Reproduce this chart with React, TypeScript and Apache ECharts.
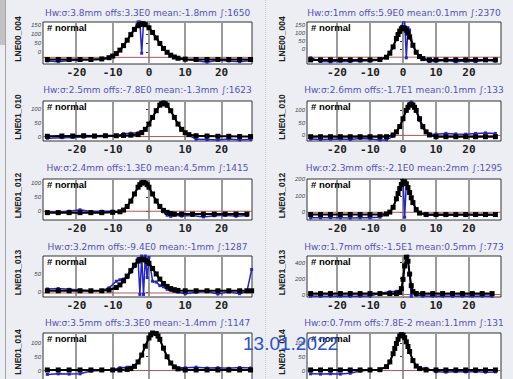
import React, { useEffect, useRef } from "react";
import * as echarts from "echarts";

// ---------- data ----------
const PANEL_NAMES = ["LNE00_004", "LNE00_004", "LNE01_010", "LNE01_010", "LNE01_012", "LNE01_012", "LNE01_013", "LNE01_013", "LNE01_014", "LNE01_014"];
const TITLES = [
  "Hw:σ:3.8mm offs:3.3E0 mean:-1.8mm ∫:1650",
  "Hw:σ:1mm offs:5.9E0 mean:0.1mm ∫:2370",
  "Hw:σ:2.5mm offs:-7.8E0 mean:-1.3mm ∫:1623",
  "Hw:σ:2.6mm offs:-1.7E1 mean:0.1mm ∫:133",
  "Hw:σ:2.4mm offs:1.3E0 mean:4.5mm ∫:1415",
  "Hw:σ:2.3mm offs:-2.1E0 mean:2mm ∫:1295",
  "Hw:σ:3.2mm offs:-9.4E0 mean:-1mm ∫:1287",
  "Hw:σ:1.7mm offs:-1.5E1 mean:0.5mm ∫:773",
  "Hw:σ:3.5mm offs:3.3E0 mean:-1.4mm ∫:1147",
  "Hw:σ:0.7mm offs:7.8E-2 mean:1.1mm ∫:131",
];
const LEGEND_TEXT = "# normal";
const DATE_TEXT = "13.01.2022";
const X_TICKS = [-20, -10, 0, 10, 20];
const Y_TICKS = [
  [0, 50, 100, 150], [0, 50, 100, 150],
  [0, 50, 100], [0, 50, 100],
  [0, 50, 100], [0, 100, 200],
  [0, 50], [0, 200, 400],
  [0, 50, 100], [0, 50, 100],
];
const Y_RANGES = [
  [-65, 168], [-94, 171],
  [-16, 128], [-22, 136],
  [-31, 114], [-47, 202],
  [-13, 99], [-31, 483],
  [-38, 136], [-38, 136],
];
const BASELINES = [-28, -51, 0, 0, 0, 0, -2, 0, 0, 0];

const X1L = [-28,-25,-22,-19,-16,-13,-11,-10,-9,-8,-7,-6,-5,-4,-3,-2.5,-2,-1.5,-1,0,1,2,3,4,5,6,7,8,10,13,16,19,22,25,28];
const FIT1L = [-40,-40,-40,-40,-40,-37,-30,-21,-7,12,37,67,98,127,147,154,157,157,153,136,110,80,49,21,0,-16,-26,-33,-38,-40,-40,-40,-40,-40,-40];
const RAW1L = [-48,-52,-45,-44,-42,-40,-32,-22,-8,10,36,68,100,130,168,168,-5,165,155,138,110,80,50,22,0,-18,-28,-36,-42,-45,-55,-44,-48,-52,-46];

const X1R = [-28,-25,-22,-19,-16,-13,-10,-7,-5,-4,-3,-2,-1.5,-1,-0.5,0,0.5,1,1.5,2,3,4,5,6,8,10,13,16,19,22,25,28];
const FIT1R = [-68,-68,-68,-68,-68,-68,-68,-66,-51,-26,14,66,92,113,128,135,132,120,101,76,24,-20,-47,-60,-68,-68,-68,-68,-68,-68,-68,-68];
const RAW1R = [-55,-78,-80,-76,-78,-75,-74,-70,-48,-20,18,70,95,110,130,175,175,-55,135,120,30,-18,-50,-62,-78,-76,-72,-80,-75,-78,-72,-76];

const X2L = [-28,-24,-21,-18,-15,-12,-9,-7,-5,-3,-2,-1,0,1,2,3,3.5,4,4.5,5,6,7,8,9,10,11,13,16,19,22,25,28];
const FIT2L = [1,2,2,3,2,3,3,4,5,7,14,26,45,69,93,113,118,120,118,113,93,69,45,26,14,7,3,2,1,1,0,0];
const RAW2L = [-6,-4,-3,-2,-1,0,2,10,12,14,18,24,44,70,95,112,120,125,116,110,92,70,44,24,12,5,-10,-11,-12,-9,-12,-10];

const X2R = [-28,-25,-22,-19,-16,-13,-10,-7,-5,-3,-2,-1,0,1,1.5,2,2.5,3,3.5,4,5,6,7,8,10,13,16,19,22,25,28];
const FIT2R = [-5,-5,-5,-5,-5,-5,-5,-5,-5,2,14,35,66,99,111,120,123,120,111,99,66,35,14,2,-5,-5,-5,-5,-5,-5,-5];
const RAW2R = [-14,-16,-15,-14,-16,-12,-14,-18,-17,-4,12,34,66,100,115,126,132,118,110,96,60,30,14,6,5,8,6,5,8,10,8];

const X3L = [-28,-25,-22,-19,-16,-13,-10,-8,-7,-6,-5,-4,-3,-2.5,-2,-1.5,-1,-0.5,0,1,2,3,4,5,6,7,9,12,15,18,21,24,27];
const FIT3L = [-5,-5,-5,-5,-5,-5,-4,-2,4,17,36,61,85,94,100,102,100,94,85,61,36,17,3,-4,-8,-10,-10,-10,-10,-10,-10,-10,-10];
const RAW3L = [-2,-3,0,5,-1,0,0,-1,5,18,34,60,86,96,104,104,102,96,86,60,34,14,-2,-14,-18,-14,-17,-15,-20,-16,-14,-18,-15];

const X3R = [-28,-25,-22,-19,-16,-13,-10,-7,-5,-4,-3,-2,-1.5,-1,-0.5,0,0.5,1,1.5,2,2.5,3,4,5,7,10,13,16,19,22,25,28];
const FIT3R = [-14,-14,-14,-14,-14,-14,-14,-14,-10,1,30,82,114,144,169,184,185,173,150,120,88,59,16,-5,-14,-14,-14,-14,-14,-14,-14,-14];
const RAW3R = [-34,-34,-33,-34,-35,-33,-34,-30,-12,2,28,80,116,146,172,205,-30,175,150,118,86,60,18,-8,-18,-16,-20,-17,-15,-18,-16,-18];

const X4L = [-28,-25,-22,-19,-16,-13,-11,-9,-8,-7,-6,-5,-4,-3,-2.5,-2,-1.5,-1,-0.5,0,1,2,3,4,5,6,7,8,10,13,16,19,22,25,27,28.3];
const FIT4L = [4,4,4,4,4,4,6,13,20,31,44,59,74,85,88,90,90,88,84,79,65,50,36,24,16,10,7,5,4,4,4,4,4,4,4,4];
const RAW4L = [9,10,8,6,4,5,12,30,34,36,40,55,70,92,-6,99,-6,99,40,95,30,28,18,15,8,5,2,0,-4,0,2,-5,1,-4,2,62];

const X4R = [-28,-25,-22,-19,-16,-13,-10,-7,-4,-2,-1,-0.5,0,0.5,1,1.5,2,2.5,3,4,6,9,12,15,18,21,24,27];
const FIT4R = [12,12,12,12,12,12,12,12,12,12,27,74,191,359,468,418,256,111,39,13,12,12,12,12,12,12,12,12];
const RAW4R = [-20,-22,-21,-20,-22,-21,-20,15,35,40,40,60,180,350,470,480,250,-20,35,-10,-20,-21,-20,-22,-20,-21,-20,-22];

const X5L = [-28,-25,-22,-19,-16,-13,-10,-8,-6,-5,-4,-3,-2,-1,0,0.5,1,1.5,2,2.5,3,4,5,6,7,8,10,13,16,19,22,25,28];
const FIT5L = [2,2,2,2,2,2,2,2,4,7,15,31,56,88,118,129,136,138,134,125,113,81,50,27,13,6,2,2,2,2,2,2,2];
const RAW5L = [-14,-12,-13,-12,-2,0,3,10,12,12,16,30,56,90,120,130,138,140,136,126,112,80,48,26,14,10,10,12,9,10,8,11,9];

const X5R = [-28,-25,-22,-19,-16,-13,-10,-7,-5,-4,-3,-2.5,-2,-1.5,-1,-0.5,0,0.5,1,1.5,2,3,4,5,7,10,13,16,19,22,25,28];
const FIT5R = [2,2,2,2,2,2,2,3,14,31,61,80,98,113,125,130,128,119,104,87,69,36,16,7,2,2,2,2,2,2,2,2];
const RAW5R = [-12,-13,-12,-13,-10,-2,2,3,14,30,60,80,100,114,126,132,130,120,104,86,68,38,18,10,8,-4,-6,-4,-5,-4,-6,-5];

const XS = [X1L, X1R, X2L, X2R, X3L, X3R, X4L, X4R, X5L, X5R];
const FITS = [FIT1L, FIT1R, FIT2L, FIT2R, FIT3L, FIT3R, FIT4L, FIT4R, FIT5L, FIT5R];
const RAWS = [RAW1L, RAW1R, RAW2L, RAW2R, RAW3L, RAW3R, RAW4L, RAW4R, RAW5L, RAW5R];

// ---------- layout ----------
const W = 513;
const H = 379;
const COLS = [
  { left: 43, width: 209, xMin: -29.2, xMax: 28.4, nameX: 18 },
  { left: 307, width: 194, xMin: -29.1, xMax: 29.7, nameX: 282 },
];
const ROWS = [
  { top: 22, height: 42, titleY: 12.5 },
  { top: 101, height: 40, titleY: 90 },
  { top: 179, height: 41, titleY: 167.5 },
  { top: 256, height: 41, titleY: 247 },
  { top: 333, height: 48, titleY: 322.5 },
];

export default function App() {
  const ref = useRef<HTMLDivElement>(null);
  useEffect(() => {
    document.body.style.margin = "0";
    if (!ref.current) return;
    const chart = echarts.init(ref.current, null, { renderer: "svg" });
    const grids: any[] = [];
    const xAxes: any[] = [];
    const yAxes: any[] = [];
    const series: any[] = [];
    const graphics: any[] = [
      { type: "rect", shape: { x: 0, y: 0, width: 6, height: 45 }, style: { fill: "#c2c2c2" } },
      { type: "line", shape: { x1: 5.5, y1: 0, x2: 5.5, y2: H }, style: { stroke: "#a4a4a4", lineWidth: 1 } },
      { type: "line", shape: { x1: 265.5, y1: 0, x2: 265.5, y2: H }, style: { stroke: "#c9cfda", lineWidth: 1, lineDash: [1, 1] } },
    ];
    for (let i = 0; i < 10; i++) {
      const c = COLS[i % 2];
      const r = ROWS[Math.floor(i / 2)];
      const [yMin, yMax] = Y_RANGES[i];
      grids.push({
        left: c.left, top: r.top, width: c.width, height: r.height,
        outerBoundsMode: "none", containLabel: false,
        show: true, backgroundColor: "#ffffff", borderColor: "#333", borderWidth: 1,
      });
      xAxes.push({
        gridIndex: i, type: "value", min: c.xMin, max: c.xMax,
        axisLine: { show: false },
        axisTick: { show: true, length: 3, customValues: X_TICKS, lineStyle: { color: "#333" } },
        axisLabel: {
          customValues: X_TICKS, margin: 3, fontFamily: "DejaVu Sans Mono", fontWeight: "bold",
          fontSize: 11, color: "#222",
        },
        splitLine: { show: false },
      });
      yAxes.push({
        gridIndex: i, type: "value", min: yMin, max: yMax,
        axisLine: { show: false },
        axisTick: { show: true, length: 3, customValues: Y_TICKS[i], lineStyle: { color: "#333" } },
        axisLabel: {
          customValues: Y_TICKS[i], margin: 2, fontFamily: "Liberation Sans", fontStyle: "italic",
          fontSize: 6, color: "#444",
        },
        splitLine: { show: false },
      });
      // vertical grid lines at the x tick values, as thin filled rects placed through the axes
      series.push({
        type: "custom", xAxisIndex: i, yAxisIndex: i, z: 1, silent: true,
        data: X_TICKS.map((v) => [v, yMin]),
        encode: { x: 0, y: 1 },
        renderItem: (params: any, api: any) => {
          const v = api.value(0);
          const top = api.coord([v, yMax]);
          const bottom = api.coord([v, yMin]);
          return {
            type: "rect",
            shape: { x: Math.round(top[0]) - 1, y: top[1], width: 2, height: bottom[1] - top[1] },
            style: { fill: "#9a9a9a" },
          };
        },
      });
      // baseline
      series.push({
        type: "line", xAxisIndex: i, yAxisIndex: i, z: 1, silent: true,
        data: [[c.xMin, BASELINES[i]], [c.xMax, BASELINES[i]]], symbol: "none",
        lineStyle: { color: "#b25a5a", width: 1 },
      });
      const xs = XS[i];
      series.push({
        type: "line", xAxisIndex: i, yAxisIndex: i, z: 2,
        data: xs.map((x, j) => [x, RAWS[i][j]]),
        symbol: "rect", symbolSize: 3, showSymbol: true,
        lineStyle: { color: "#2424c8", width: 1.5 },
        itemStyle: { color: "#2424c8" },
      });
      series.push({
        type: "line", xAxisIndex: i, yAxisIndex: i, z: 3,
        data: xs.map((x, j) => [x, FITS[i][j]]),
        symbol: "rect", symbolSize: 5, showSymbol: true,
        lineStyle: { color: "#000", width: 2 },
        itemStyle: { color: "#000" },
      });
      graphics.push({
        type: "text", x: c.left + c.width / 2, y: r.titleY, z: 5,
        style: {
          text: TITLES[i], fill: "#5252b8", fontFamily: "DejaVu Sans", fontSize: 9,
          align: "center", verticalAlign: "middle", textAlign: "center", textVerticalAlign: "middle",
        },
      });
      graphics.push({
        type: "text", x: c.nameX, y: Math.min(r.top + r.height / 2 - 4, 352), rotation: Math.PI / 2, z: 5,
        style: {
          text: PANEL_NAMES[i], fill: "#222", fontFamily: "Liberation Sans", fontWeight: "bold", fontSize: 8.5,
          align: "center", verticalAlign: "middle", textAlign: "center", textVerticalAlign: "middle",
        },
      });
      graphics.push({
        type: "text", x: c.left + 4, y: r.top + 5, z: 5,
        style: {
          text: LEGEND_TEXT, fill: "#000", fontFamily: "Liberation Sans", fontWeight: "bold", fontSize: 9.5,
          align: "left", verticalAlign: "middle", textAlign: "left", textVerticalAlign: "middle",
        },
      });
    }
    graphics.push({
      type: "text", x: 243, y: 343, z: 50,
      style: {
        text: DATE_TEXT, fill: "#2b50d0", fontFamily: "Liberation Sans", fontSize: 19,
        align: "left", verticalAlign: "middle", textAlign: "left", textVerticalAlign: "middle",
      },
    });
    chart.setOption({
      animation: false,
      backgroundColor: "#eceef3",
      grid: grids,
      xAxis: xAxes,
      yAxis: yAxes,
      series,
      graphic: graphics,
    });
    return () => chart.dispose();
  }, []);
  return <div ref={ref} style={{ width: W, height: H, background: "#eceef3" }} />;
}
